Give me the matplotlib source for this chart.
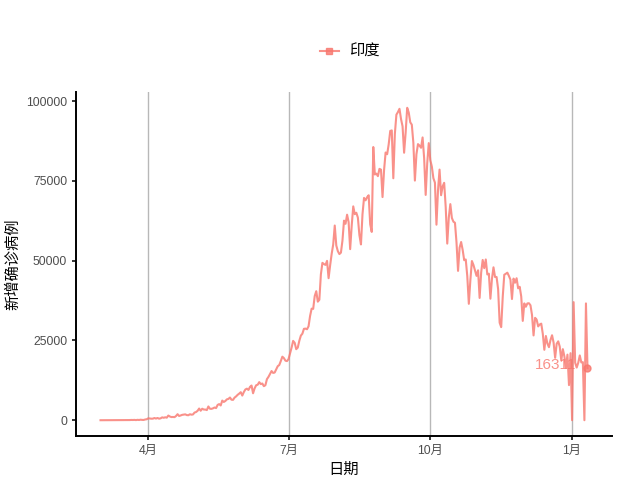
import pandas as pd
import matplotlib
matplotlib.use("Agg")
import matplotlib.pyplot as plt
import matplotlib.dates as mdates
from matplotlib.lines import Line2D

plt.rcParams['font.family'] = ['Liberation Sans', 'Noto Sans CJK SC', 'DejaVu Sans']

# 印度每日新增确诊 (2020-03-01 起)
mar = [0, 2, 1, 22, 2, 1, 3, 5, 4, 13, 6, 11, 9, 20, 11, 6, 23, 14, 38, 50,
       86, 66, 103, 37, 121, 70, 160, 100, 82, 229, 303]
apr = [601, 545, 478, 495, 693, 517, 704, 485, 591, 896, 768, 918, 796, 1463, 1164,
       982, 1020, 957, 1317, 1893, 1329, 1486, 1684, 1752, 1835, 1607, 1561, 1873, 1738, 1801]
may = [2396, 2564, 2952, 3656, 2971, 3602, 3344, 3339, 3175, 4311, 3592, 3562, 3726, 3991,
       3808, 4794, 5049, 4628, 6154, 5720, 6023, 6536, 6667, 7113, 6414, 6382, 7089, 7466,
       7964, 8336, 8782]
jun = [7723, 8821, 9633, 9889, 9471, 10438, 10864, 8442, 9987, 10956, 11128, 11929, 11320,
       11502, 10667, 10974, 12881, 13586, 14516, 15403, 14821, 14933, 15968, 16922, 17296,
       18552, 19906, 19459, 18653, 18522]
jul = [19148, 20903, 22771, 24850, 24248, 22252, 22752, 24879, 26506, 27114, 28637, 28701,
       28498, 29429, 32695, 34956, 34884, 38902, 40425, 37148, 37724, 45720, 49310, 48916,
       48661, 49931, 44500, 48513, 52123, 55078, 61000]
aug = [54735, 52972, 52050, 52509, 56282, 62538, 61537, 64399, 62064, 53601, 60963, 66999,
       64553, 65002, 63490, 57981, 55079, 64531, 69652, 68898, 69878, 70488, 61408, 59000,
       85600, 77000, 77266, 76472, 78761, 78512, 69921]
sep = [78357, 83883, 83341, 86432, 90632, 90802, 75809, 89706, 95735, 96551, 97570, 94372,
       92071, 83809, 90123, 97894, 96424, 93337, 92605, 86961, 75083, 83347, 86508, 86052,
       85362, 88600, 82170, 70589, 80472, 86821]
oct_ = [81484, 79476, 75829, 74442, 61267, 72049, 78524, 70496, 73272, 74383, 66732, 55342,
        63509, 67708, 63371, 62212, 61871, 55722, 46790, 54044, 55839, 53370, 50129, 50356,
        45148, 36470, 43893, 49881, 48648, 46963, 45230]
nov = [46964, 38310, 46253, 50210, 47638, 50357, 45674, 45903, 38073, 44281, 47905, 44879,
       44878, 41100, 30548, 29164, 38617, 45576, 45882, 46232, 45209, 44059, 37975, 44376,
       43082, 44489, 41322, 41810, 38772, 31118]
dec = [36604, 35551, 36595, 36652, 36011, 32981, 26567, 32080, 31521, 29398, 30006, 30254,
       27071, 22065, 26382, 24010, 22890, 25152, 26624, 24337, 19556, 23950, 24712, 23067,
       18732, 22273, 20021, 16432, 20549, 11000, 21000]
jan = [0, 37000, 18000, 16500, 18000, 20300, 18100, 18200, 0, 36600, 16311]

values = mar + apr + may + jun + jul + aug + sep + oct_ + nov + dec + jan
dates = pd.date_range("2020-03-01", periods=len(values), freq="D")

tick_dates = pd.to_datetime(["2020-04-01", "2020-07-01", "2020-10-01", "2021-01-01"])
tick_labels = ["4月", "7月", "10月", "1月"]

col = "#F8766D"

fig = plt.figure(figsize=(6.4, 4.8), dpi=100)
ax = fig.add_axes([0.119, 0.092, 0.837, 0.716])

ax.plot(dates, values, color=col, alpha=0.8, lw=1.5)
ax.plot(dates[-1], values[-1], 'o', color=col, alpha=0.8, ms=5)
ax.annotate(str(values[-1]), xy=(dates[-1], values[-1]), xytext=(-8, 2),
            textcoords='offset points', ha='right', va='center',
            color=col, alpha=0.8, fontsize=11)

span = (dates[-1] - dates[0]) * 0.05
ax.set_xlim(dates[0] - span, dates[-1] + span)
ymax = max(values)
ax.set_ylim(-0.05 * ymax, 1.05 * ymax)

ax.set_xticks(tick_dates)
ax.set_xticklabels(tick_labels)
ax.set_yticks([0, 25000, 50000, 75000, 100000])
ax.set_yticklabels(["0", "25000", "50000", "75000", "100000"])
ax.tick_params(axis='both', labelsize=8.8, labelcolor="#4D4D4D", length=3, width=1.1)

ax.grid(axis='x', color="#B8B8B8", lw=1)
ax.set_axisbelow(True)
for s in ["top", "right"]:
    ax.spines[s].set_visible(False)
for s in ["left", "bottom"]:
    ax.spines[s].set_linewidth(1.4)

ax.set_xlabel("日期", fontsize=11)
ax.set_ylabel("新增确诊病例", fontsize=11)

handle = Line2D([], [], color=col, alpha=0.8, lw=1.5, marker='s', ms=5)
fig.legend([handle], ["印度"], loc='center', bbox_to_anchor=(0.547, 0.892),
           frameon=False, fontsize=11, handlelength=1.2, handletextpad=0.7)

fig.savefig("out.png", dpi=100)
